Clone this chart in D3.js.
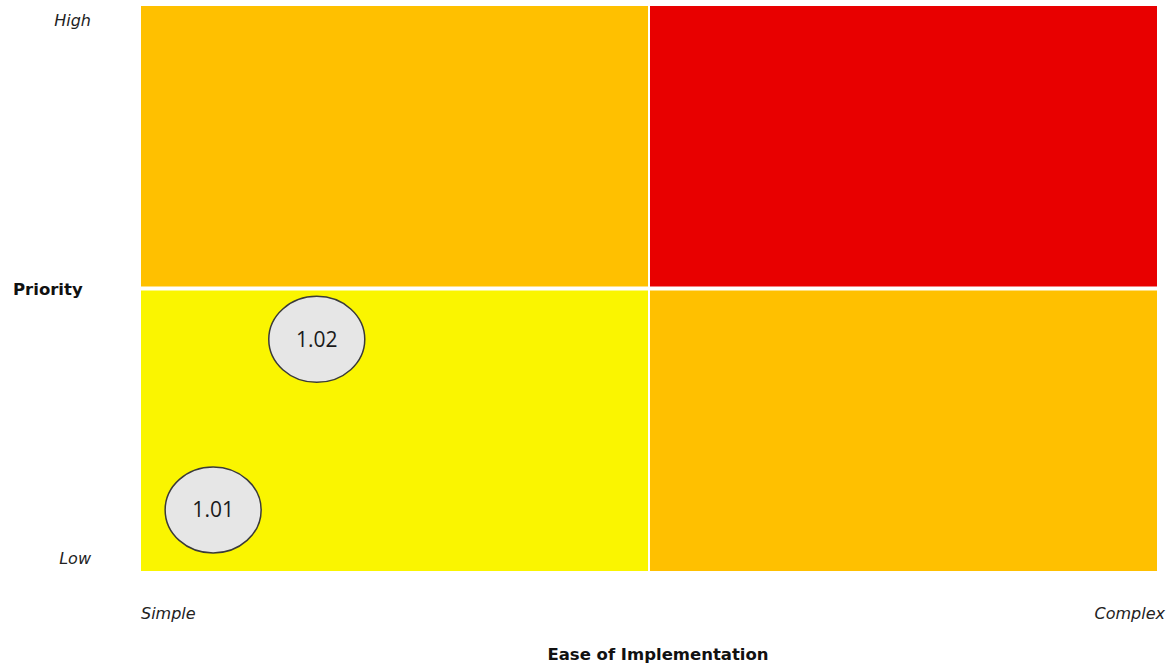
<!DOCTYPE html>
<html>
<head>
<meta charset="utf-8">
<script src="https://cdn.jsdelivr.net/npm/d3@7"></script>
<style>
  body { margin: 0; background: #fff; }
  text { font-family: "DejaVu Sans", Verdana, sans-serif; fill: #222; }
  .end-label { font-style: italic; font-size: 16px; }
  .axis-title { font-weight: bold; font-size: 16.5px; fill: #111; }
  .bubble-label { font-family: "Open Sans", sans-serif; font-size: 21px; fill: #1a1a1a; }
</style>
</head>
<body>
<div id="chart"></div>
<script>
// quadrant cells (data units on both axes: 0..10)
const quadX0 = [0, 5, 0, 5];
const quadX1 = [5, 10, 5, 10];
const quadY0 = [5, 5, 0, 0];
const quadY1 = [10, 10, 5, 5];
const quadFill = ["#FFC000", "#E80000", "#FAF500", "#FFC000"];

// items placed on the matrix
const itemIds = ["1.01", "1.02"];
const itemEase = [0.71, 1.73];
const itemPriority = [1.08, 4.1];

// axis end labels
const xEndLabels = ["Simple", "Complex"];
const yEndLabels = ["Low", "High"];
const xTitle = "Ease of Implementation";
const yTitle = "Priority";

const W = 1172, H = 669;
const margin = {top: 6, right: 15, bottom: 98, left: 141};

const svg = d3.select("#chart").append("svg")
    .attr("width", W)
    .attr("height", H);

const x = d3.scaleLinear().domain([0, 10]).range([margin.left, W - margin.right]);
const y = d3.scaleLinear().domain([0, 10]).range([H - margin.bottom, margin.top]);

const quads = quadFill.map((c, i) => ({x0: quadX0[i], x1: quadX1[i], y0: quadY0[i], y1: quadY1[i], fill: c}));

svg.selectAll("rect.quad")
  .data(quads)
  .join("rect")
  .attr("class", "quad")
  .attr("x", d => x(d.x0))
  .attr("y", d => y(d.y1))
  .attr("width", d => x(d.x1) - x(d.x0))
  .attr("height", d => y(d.y0) - y(d.y1))
  .attr("fill", d => d.fill);

// white dividers between quadrants
svg.append("line")
  .attr("x1", x(5)).attr("x2", x(5))
  .attr("y1", y(10)).attr("y2", y(0))
  .attr("stroke", "#fff").attr("stroke-width", 2);
svg.append("line")
  .attr("x1", x(0)).attr("x2", x(10))
  .attr("y1", y(5)).attr("y2", y(5))
  .attr("stroke", "#fff").attr("stroke-width", 4);

// bubbles
const items = itemIds.map((id, i) => ({id: id, ease: itemEase[i], pr: itemPriority[i]}));

const g = svg.selectAll("g.item")
  .data(items)
  .join("g")
  .attr("class", "item")
  .attr("transform", d => "translate(" + x(d.ease) + "," + y(d.pr) + ")");

g.append("ellipse")
  .attr("rx", 48)
  .attr("ry", 43)
  .attr("fill", "#E6E6E6")
  .attr("stroke", "#3a3a3a")
  .attr("stroke-width", 1.5);

g.append("text")
  .attr("class", "bubble-label")
  .attr("text-anchor", "middle")
  .attr("dy", "0.35em")
  .text(d => d.id);

// axis end labels
svg.append("text").attr("class", "end-label")
  .attr("x", x(0)).attr("y", 619)
  .text(xEndLabels[0]);
svg.append("text").attr("class", "end-label")
  .attr("x", 1165).attr("y", 619)
  .attr("text-anchor", "end")
  .text(xEndLabels[1]);
svg.append("text").attr("class", "end-label")
  .attr("x", 91).attr("y", 564)
  .attr("text-anchor", "end")
  .text(yEndLabels[0]);
svg.append("text").attr("class", "end-label")
  .attr("x", 91).attr("y", 26)
  .attr("text-anchor", "end")
  .text(yEndLabels[1]);

// axis titles
svg.append("text").attr("class", "axis-title")
  .attr("x", 13).attr("y", 295)
  .text(yTitle);
svg.append("text").attr("class", "axis-title")
  .attr("x", 658).attr("y", 660)
  .attr("text-anchor", "middle")
  .text(xTitle);
</script>
</body>
</html>
